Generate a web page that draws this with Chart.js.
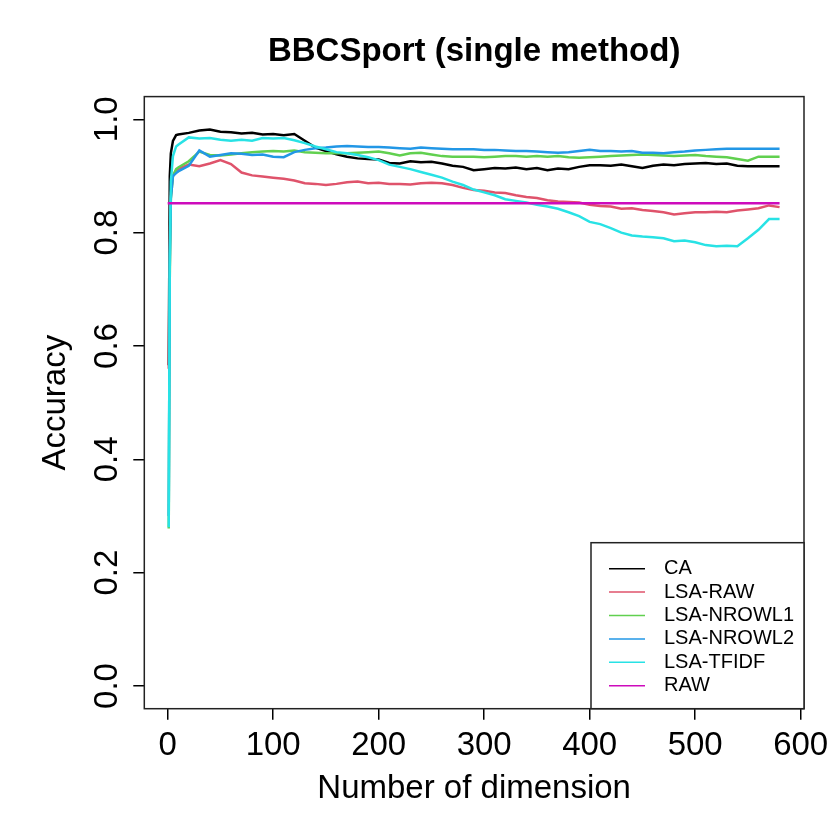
<!DOCTYPE html>
<html>
<head>
<meta charset="utf-8">
<title>BBCSport (single method)</title>
<script src="https://cdn.jsdelivr.net/npm/chart.js@4.4.1/dist/chart.umd.min.js"></script>
<style>
    html, body { margin: 0; padding: 0; background: #fff; }
</style>
</head>
<body>
<canvas id="accChart" width="830" height="830"></canvas>
<script>
// number of dimensions kept (x values)
const dims = [1, 2, 3, 5, 8,
    10, 20, 30, 40, 50, 60, 70, 80, 90, 100,
    110, 120, 130, 140, 150, 160, 170, 180, 190, 200,
    210, 220, 230, 240, 250, 260, 270, 280, 290, 300,
    310, 320, 330, 340, 350, 360, 370, 380, 390, 400,
    410, 420, 430, 440, 450, 460, 470, 480, 490, 500,
    510, 520, 530, 540, 550, 560, 570, 580];

const caAcc = [0.566, 0.900, 0.940, 0.962, 0.972,
    0.973, 0.976, 0.980, 0.982, 0.978, 0.977, 0.975, 0.976, 0.973, 0.974,
    0.972, 0.974, 0.962, 0.950, 0.944, 0.938, 0.934, 0.931, 0.930, 0.929,
    0.923, 0.922, 0.926, 0.924, 0.925, 0.922, 0.918, 0.916, 0.910, 0.912,
    0.914, 0.913, 0.915, 0.912, 0.914, 0.910, 0.913, 0.912, 0.916, 0.919,
    0.919, 0.918, 0.920, 0.917, 0.914, 0.918, 0.920, 0.919, 0.921, 0.922,
    0.923, 0.921, 0.922, 0.918, 0.917, 0.917, 0.917, 0.917];

const lsaRawAcc = [0.560, 0.780, 0.870, 0.900, 0.910,
    0.912, 0.920, 0.917, 0.922, 0.928, 0.921, 0.906, 0.901, 0.899, 0.897,
    0.895, 0.892, 0.887, 0.886, 0.884, 0.886, 0.889, 0.890, 0.887, 0.888,
    0.886, 0.886, 0.885, 0.887, 0.888, 0.887, 0.884, 0.879, 0.875, 0.874,
    0.871, 0.870, 0.866, 0.863, 0.861, 0.857, 0.855, 0.854, 0.853, 0.849,
    0.847, 0.846, 0.842, 0.843, 0.840, 0.838, 0.836, 0.832, 0.834, 0.836,
    0.836, 0.837, 0.836, 0.839, 0.841, 0.843, 0.848, 0.845];

const nrowL1Acc = [0.278, 0.720, 0.860, 0.900, 0.912,
    0.915, 0.926, 0.943, 0.937, 0.936, 0.938, 0.940, 0.942, 0.943, 0.944,
    0.943, 0.945, 0.942, 0.941, 0.940, 0.940, 0.940, 0.941, 0.942, 0.943,
    0.940, 0.936, 0.940, 0.941, 0.938, 0.935, 0.934, 0.934, 0.934, 0.933,
    0.934, 0.935, 0.935, 0.934, 0.935, 0.934, 0.935, 0.933, 0.932, 0.933,
    0.934, 0.935, 0.936, 0.937, 0.938, 0.937, 0.936, 0.935, 0.936, 0.937,
    0.935, 0.934, 0.933, 0.930, 0.927, 0.934, 0.934, 0.934];

const nrowL2Acc = [0.300, 0.740, 0.860, 0.900, 0.905,
    0.908, 0.918, 0.945, 0.934, 0.937, 0.940, 0.939, 0.937, 0.938, 0.934,
    0.933, 0.942, 0.946, 0.949, 0.950, 0.952, 0.953, 0.952, 0.951, 0.951,
    0.950, 0.949, 0.948, 0.950, 0.949, 0.948, 0.947, 0.947, 0.947, 0.946,
    0.946, 0.945, 0.944, 0.944, 0.943, 0.942, 0.941, 0.942, 0.944, 0.946,
    0.944, 0.944, 0.943, 0.944, 0.941, 0.941, 0.940, 0.942, 0.943, 0.945,
    0.946, 0.947, 0.948, 0.948, 0.948, 0.948, 0.948, 0.948];

const tfidfAcc = [0.280, 0.760, 0.890, 0.935, 0.952,
    0.955, 0.968, 0.966, 0.967, 0.964, 0.962, 0.964, 0.962, 0.967, 0.966,
    0.967, 0.963, 0.958, 0.952, 0.947, 0.942, 0.940, 0.937, 0.933, 0.928,
    0.920, 0.916, 0.912, 0.907, 0.902, 0.897, 0.890, 0.884, 0.876, 0.871,
    0.866, 0.859, 0.856, 0.853, 0.849, 0.846, 0.842, 0.836, 0.829, 0.819,
    0.815, 0.808, 0.800, 0.795, 0.793, 0.792, 0.790, 0.785, 0.786, 0.783,
    0.778, 0.776, 0.777, 0.776, 0.790, 0.805, 0.824, 0.824];

// baseline on the raw matrix is flat
const rawDims = [0, 580];
const rawAcc = [0.852, 0.852];

const seriesNames = ['CA', 'LSA-RAW', 'LSA-NROWL1', 'LSA-NROWL2', 'LSA-TFIDF', 'RAW'];
const seriesColors = ['#000000', '#DF536B', '#61D04F', '#2297E6', '#28E2E5', '#CD0BBC'];
const xTicks = [0, 100, 200, 300, 400, 500, 600];
const yTicks = [0.0, 0.2, 0.4, 0.6, 0.8, 1.0];

const seriesX = [dims, dims, dims, dims, dims, rawDims];
const seriesY = [caAcc, lsaRawAcc, nrowL1Acc, nrowL2Acc, tfidfAcc, rawAcc];

Chart.defaults.font.family = '"Liberation Sans", Arial, Helvetica, sans-serif';
Chart.defaults.color = '#000';

function toPoints(xs, ys) {
    return xs.map(function (x, i) { return { x: x, y: ys[i] }; });
}

// box round the plot, rotated y labels and the legend, R style
const rDecorations = {
    id: 'rDecorations',
    afterDraw: function (chart) {
        const ctx = chart.ctx;
        const area = chart.chartArea;
        const yScale = chart.scales.y;

        ctx.save();
        ctx.strokeStyle = '#222';
        ctx.lineWidth = 1.5;
        ctx.strokeRect(area.left, area.top, area.right - area.left, area.bottom - area.top);

        // y tick labels run along the axis
        ctx.fillStyle = '#000';
        ctx.font = '33px "Liberation Sans", Arial, sans-serif';
        ctx.textAlign = 'center';
        ctx.textBaseline = 'alphabetic';
        yTicks.forEach(function (v) {
            const py = yScale.getPixelForValue(v);
            ctx.save();
            ctx.translate(area.left - 27, py);
            ctx.rotate(-Math.PI / 2);
            ctx.fillText(v.toFixed(1), 0, 0);
            ctx.restore();
        });

        // legend, bottom right inside the box
        const w = 213, h = 166;
        const lx = area.right - w, ly = area.bottom - h;
        ctx.fillStyle = '#fff';
        ctx.fillRect(lx, ly, w, h);
        ctx.strokeRect(lx, ly, w, h);
        ctx.font = '20px "Liberation Sans", Arial, sans-serif';
        ctx.textAlign = 'left';
        ctx.textBaseline = 'middle';
        seriesNames.forEach(function (name, i) {
            const ry = ly + 26 + i * 23.4;
            ctx.strokeStyle = seriesColors[i];
            ctx.lineWidth = 1.5;
            ctx.beginPath();
            ctx.moveTo(lx + 18, ry);
            ctx.lineTo(lx + 54, ry);
            ctx.stroke();
            ctx.fillStyle = '#000';
            ctx.fillText(name, lx + 73, ry);
        });
        ctx.restore();
    }
};

const ctx = document.getElementById('accChart').getContext('2d');

new Chart(ctx, {
    type: 'line',
    data: {
        datasets: seriesNames.map(function (name, i) {
            return {
                label: name,
                data: toPoints(seriesX[i], seriesY[i]),
                borderColor: seriesColors[i],
                backgroundColor: seriesColors[i],
                borderWidth: 2.5,
                pointRadius: 0,
                tension: 0,
                fill: false,
                order: seriesNames.length - i
            };
        })
    },
    options: {
        responsive: false,
        animation: false,
        layout: { padding: { left: 20, right: 26, top: 30, bottom: 17 } },
        plugins: {
            legend: { display: false },
            tooltip: { enabled: false },
            title: {
                display: true,
                text: 'BBCSport (single method)',
                fullSize: false,
                font: { size: 33, weight: 'bold' },
                color: '#000',
                padding: { top: 2, bottom: 25 }
            }
        },
        scales: {
            x: {
                type: 'linear',
                min: -22.16,
                max: 603.16,
                afterBuildTicks: function (scale) {
                    scale.ticks = xTicks.map(function (v) { return { value: v }; });
                },
                ticks: { font: { size: 33 }, color: '#000', padding: 6, maxRotation: 0, autoSkip: false },
                grid: { drawOnChartArea: false, drawTicks: true, tickLength: 11, color: '#000', lineWidth: 1.5 },
                border: { display: false },
                title: {
                    display: true,
                    text: 'Number of dimension',
                    font: { size: 33 },
                    color: '#000',
                    padding: { top: 0, bottom: 4 }
                },
                afterFit: function (scale) {
                    scale.height = 104.3;
                    scale.paddingLeft = 0;
                    scale.paddingRight = 0;
                }
            },
            y: {
                min: -0.04,
                max: 1.04,
                afterBuildTicks: function (scale) {
                    scale.ticks = yTicks.map(function (v) { return { value: v }; });
                },
                ticks: { display: true, color: 'rgba(0,0,0,0)', font: { size: 33 } },
                grid: { drawOnChartArea: false, drawTicks: true, tickLength: 11, color: '#000', lineWidth: 1.5 },
                border: { display: false },
                title: {
                    display: true,
                    text: 'Accuracy',
                    font: { size: 33 },
                    color: '#000',
                    padding: { top: 16, bottom: 0 }
                },
                afterFit: function (scale) {
                    scale.width = 124.3;
                    scale.paddingTop = 0;
                    scale.paddingBottom = 0;
                }
            }
        }
    },
    plugins: [rDecorations]
});
</script>
</body>
</html>
